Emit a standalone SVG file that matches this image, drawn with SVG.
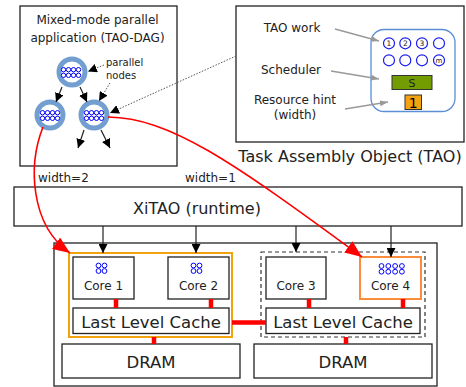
<svg xmlns="http://www.w3.org/2000/svg" width="466" height="387" viewBox="0 0 466 387">
<style>
text{font-family:"DejaVu Sans","Liberation Sans",sans-serif;fill:#222}
.box{fill:#fff;stroke:#222;stroke-width:1.3}
.ring{fill:#fff;stroke:#729fcf;stroke-width:5}
.dot{fill:#fff;stroke:#0000ff;stroke-width:1}
.tc{fill:#fff;stroke:#1a1aee;stroke-width:1.2}
.red{stroke:#ff0000;stroke-width:4.5;fill:none}
.blk{stroke:#222;stroke-width:1.2;fill:none;marker-end:url(#ab)}
.gry{stroke:#999;stroke-width:1.3;fill:none;marker-end:url(#ag)}
.dtd{stroke:#555;stroke-width:1;stroke-dasharray:1.5,1.5;fill:none;marker-end:url(#ab)}
.rc{stroke:#ff0000;stroke-width:1.6;fill:none;marker-end:url(#ar)}
</style>
<defs>
<marker id="ab" markerUnits="userSpaceOnUse" markerWidth="9" markerHeight="9" viewBox="0 0 9 9" refX="9" refY="4.5" orient="auto"><path d="M0,0 L9,4.5 L0,9 z" fill="#000"/></marker>
<marker id="ag" markerUnits="userSpaceOnUse" markerWidth="8" markerHeight="6" viewBox="0 0 8 6" refX="8" refY="3" orient="auto"><path d="M0,0 L8,3 L0,6 z" fill="#999"/></marker>
<marker id="ar" markerUnits="userSpaceOnUse" markerWidth="17" markerHeight="14" viewBox="0 0 17 14" refX="17" refY="7" orient="auto"><path d="M0,0 L17,7 L0,14 z" fill="#ff0000"/></marker>
<g id="dots8">
<circle class="dot" cx="-7.5" cy="-2.8" r="2.2"/><circle class="dot" cx="-2.5" cy="-2.8" r="2.2"/><circle class="dot" cx="2.5" cy="-2.8" r="2.2"/><circle class="dot" cx="7.5" cy="-2.8" r="2.2"/>
<circle class="dot" cx="-7.5" cy="2.8" r="2.2"/><circle class="dot" cx="-2.5" cy="2.8" r="2.2"/><circle class="dot" cx="2.5" cy="2.8" r="2.2"/><circle class="dot" cx="7.5" cy="2.8" r="2.2"/>
</g>
</defs>
<rect width="466" height="387" fill="#fff"/>

<g id="app">
<rect class="box" x="20" y="6" width="157" height="160" stroke-width="2"/>
<text x="97.5" y="24" font-size="12" text-anchor="middle">Mixed-mode parallel</text>
<text x="97.5" y="42" font-size="12" text-anchor="middle">application (TAO-DAG)</text>
<text x="106" y="66" font-size="10">parallel</text>
<text x="106" y="79" font-size="10">nodes</text>
</g>
<g id="node-top"><circle class="ring" cx="72" cy="72" r="13"/><use href="#dots8" x="71" y="72.5"/></g>
<g id="node-left"><circle class="ring" cx="50" cy="115" r="13"/><use href="#dots8" x="50" y="115.5"/></g>
<g id="node-right"><circle class="ring" cx="94" cy="115" r="13"/><use href="#dots8" x="94" y="115.5"/></g>

<g id="tao">
<rect class="box" x="236" y="6" width="228" height="136" stroke-width="2"/>
<text x="350" y="162" font-size="16" text-anchor="middle">Task Assembly Object (TAO)</text>
<text x="292" y="32" font-size="12" text-anchor="middle">TAO work</text>
<text x="291" y="74" font-size="12" text-anchor="middle">Scheduler</text>
<text x="295" y="104" font-size="12" text-anchor="middle">Resource hint</text>
<text x="295" y="119" font-size="12" text-anchor="middle">(width)</text>
<rect x="371" y="29.5" width="84" height="82" rx="13" fill="#fff" stroke="#5b8ed4" stroke-width="1.3"/>
<circle class="tc" cx="389" cy="43.3" r="5.5"/><circle class="tc" cx="405.3" cy="43.3" r="5.5"/><circle class="tc" cx="422" cy="43.3" r="5.5"/><circle class="tc" cx="439" cy="43.3" r="5.5"/>
<circle class="tc" cx="389" cy="60.3" r="5.5"/><circle class="tc" cx="405.3" cy="60.3" r="5.5"/><circle class="tc" cx="422" cy="60.3" r="5.5"/><circle class="tc" cx="439" cy="60.3" r="5.5"/>
<text x="389" y="46" font-size="7.5" text-anchor="middle">1</text>
<text x="405.3" y="46" font-size="7.5" text-anchor="middle">2</text>
<text x="422" y="46" font-size="7.5" text-anchor="middle">3</text>
<text x="439" y="62.5" font-size="7" text-anchor="middle">m</text>
<rect x="392" y="75.5" width="40" height="14" fill="#739c00" stroke="#333" stroke-width="1"/>
<text x="412" y="87" font-size="11" text-anchor="middle">S</text>
<rect x="405" y="95" width="16.5" height="14.5" fill="#f2a30f" stroke="#333" stroke-width="1"/>
<text x="413.3" y="107.5" font-size="14" text-anchor="middle" style="fill:#000">1</text>
</g>

<g id="labels">
<text x="38" y="182" font-size="12">width=2</text>
<text x="185" y="182" font-size="12">width=1</text>
</g>

<g id="xitao">
<rect class="box" x="14" y="187" width="448" height="39"/>
<text x="197" y="214" font-size="16" text-anchor="middle">XiTAO (runtime)</text>
</g>

<g id="machine">
<rect class="box" x="54" y="243" width="383" height="143" stroke-width="1.5"/>
</g>
<g id="socket1">
<rect x="69" y="253" width="163" height="84" fill="#fff" stroke="#f0a30a" stroke-width="2"/>
</g>
<g id="socket2">
<rect x="261" y="252" width="164" height="85" fill="#fff" stroke="#333" stroke-width="1.2" stroke-dasharray="4,3"/>
</g>
<g id="core1">
<rect class="box" x="73" y="257" width="61" height="42"/>
<circle class="dot" cx="98.5" cy="265.5" r="2.4"/><circle class="dot" cx="104.5" cy="265.5" r="2.4"/><circle class="dot" cx="98.5" cy="271" r="2.4"/><circle class="dot" cx="104.5" cy="271" r="2.4"/>
<text x="103.5" y="290" font-size="12" text-anchor="middle">Core 1</text>
</g>
<g id="core2">
<rect class="box" x="168" y="257" width="61" height="42"/>
<circle class="dot" cx="193.5" cy="265.5" r="2.4"/><circle class="dot" cx="199.5" cy="265.5" r="2.4"/><circle class="dot" cx="193.5" cy="271" r="2.4"/><circle class="dot" cx="199.5" cy="271" r="2.4"/>
<text x="198.5" y="290" font-size="12" text-anchor="middle">Core 2</text>
</g>
<g id="core3">
<rect class="box" x="266" y="257" width="60" height="42"/>
<text x="296" y="290" font-size="12" text-anchor="middle">Core 3</text>
</g>
<g id="core4">
<rect x="360" y="257" width="61" height="42" fill="#fff" stroke="#fa8c3c" stroke-width="2"/>
<circle class="dot" cx="381.5" cy="266" r="2.4"/><circle class="dot" cx="388.3" cy="266" r="2.4"/><circle class="dot" cx="395.1" cy="266" r="2.4"/><circle class="dot" cx="401.9" cy="266" r="2.4"/>
<circle class="dot" cx="381.5" cy="271.7" r="2.4"/><circle class="dot" cx="388.3" cy="271.7" r="2.4"/><circle class="dot" cx="395.1" cy="271.7" r="2.4"/><circle class="dot" cx="401.9" cy="271.7" r="2.4"/>
<text x="390.5" y="290" font-size="12" text-anchor="middle">Core 4</text>
</g>
<g id="llc1">
<rect class="box" x="73" y="308" width="156" height="25.5"/>
<text x="151" y="327.5" font-size="16.5" text-anchor="middle">Last Level Cache</text>
</g>
<g id="llc2">
<rect class="box" x="266" y="308" width="154" height="25.5"/>
<text x="343" y="327.5" font-size="16.5" text-anchor="middle">Last Level Cache</text>
</g>
<g id="dram1">
<rect class="box" x="62" y="344" width="178" height="34"/>
<text x="151" y="368" font-size="16.5" text-anchor="middle">DRAM</text>
</g>
<g id="dram2">
<rect class="box" x="254" y="344" width="178" height="34"/>
<text x="343" y="368" font-size="16.5" text-anchor="middle">DRAM</text>
</g>

<g id="connectors">
<line class="blk" x1="62" y1="87" x2="56" y2="102"/>
<line class="blk" x1="80" y1="87" x2="87" y2="102"/>
<line class="blk" x1="84" y1="130" x2="78" y2="148"/>
<line class="blk" x1="101" y1="130" x2="110" y2="148"/>
<line class="dtd" x1="104" y1="65" x2="88" y2="71.5"/>
<line class="dtd" x1="110" y1="83" x2="99" y2="101"/>
<line class="dtd" x1="236" y1="56" x2="110" y2="113"/>
<line class="gry" x1="335" y1="29" x2="379" y2="41"/>
<line class="gry" x1="331" y1="71" x2="379" y2="79"/>
<line class="gry" x1="345" y1="109" x2="388" y2="102"/>
<line class="blk" x1="103" y1="226" x2="103" y2="253"/>
<line class="blk" x1="196" y1="226" x2="196" y2="253"/>
<line class="blk" x1="296" y1="226" x2="296" y2="252"/>
<line class="blk" x1="391" y1="226" x2="391" y2="257"/>
<line class="red" x1="116" y1="299" x2="116" y2="308"/>
<line class="red" x1="211" y1="299" x2="211" y2="308"/>
<line class="red" x1="309" y1="299" x2="309" y2="308"/>
<line class="red" x1="403" y1="299" x2="403" y2="308"/>
<line class="red" x1="154" y1="337" x2="154" y2="344" stroke-width="3"/>
<line class="red" x1="346" y1="337" x2="346" y2="344" stroke-width="3"/>
<line class="red" x1="232" y1="322.5" x2="266" y2="322.5" stroke-width="3"/>
<path class="rc" d="M43,127 C28,165 30,225 70,253"/>
<path class="rc" d="M108,117 C170,118 230,160 362,257"/>
</g>
</svg>
